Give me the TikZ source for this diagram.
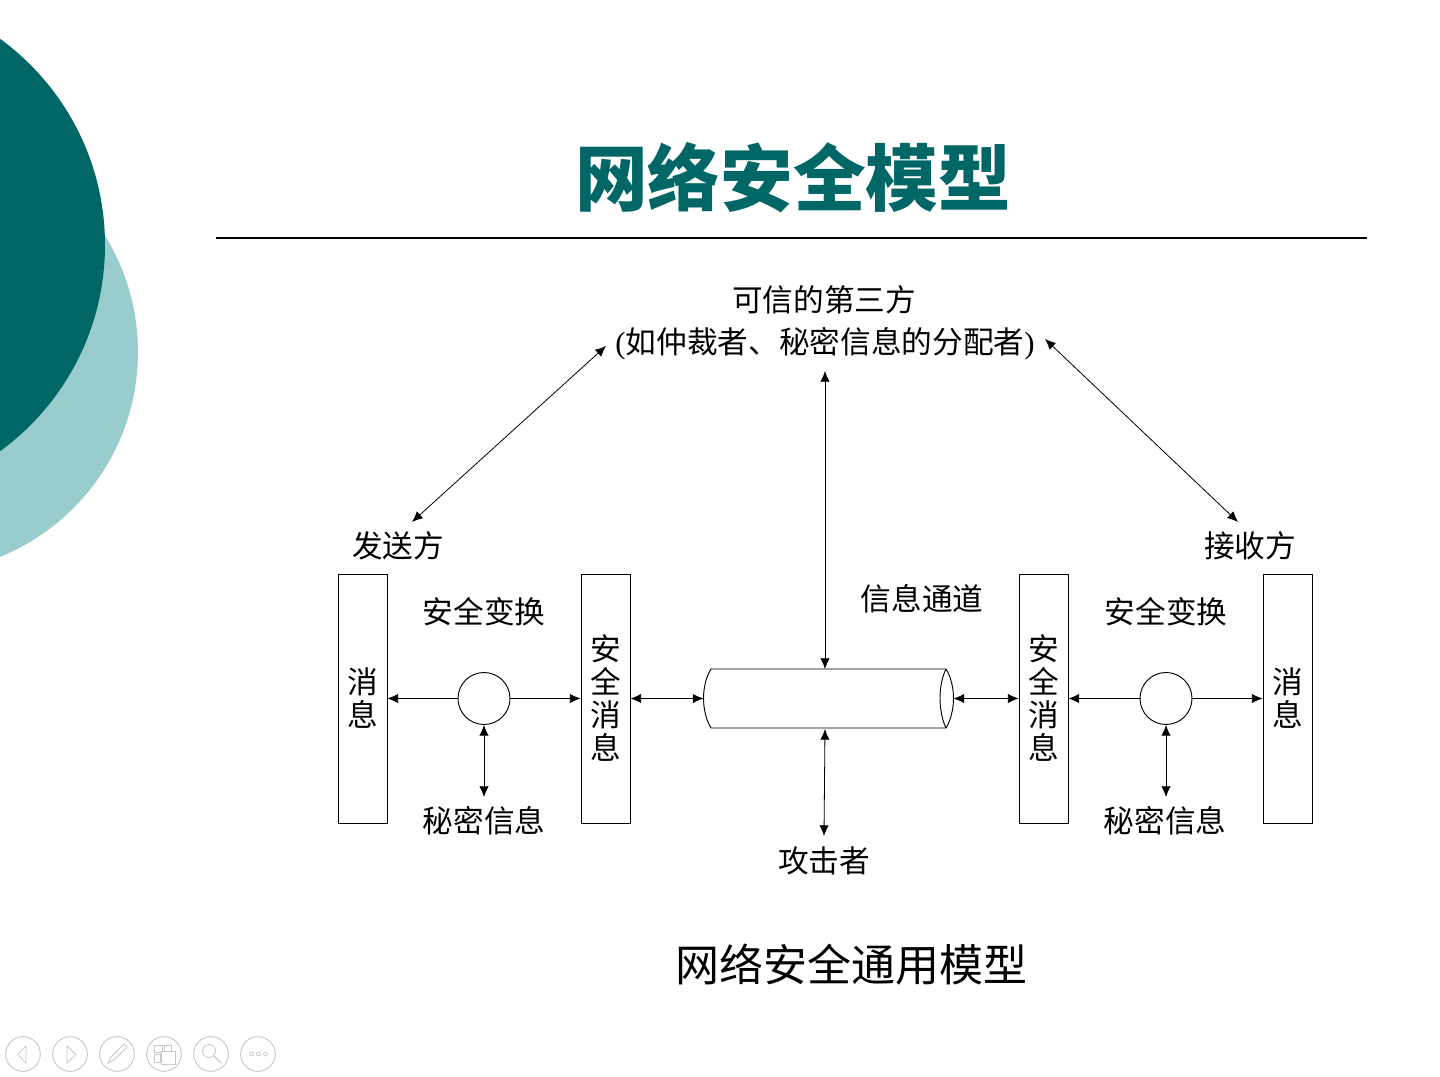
\documentclass[tikz,border=0pt]{standalone}
\usepackage{fontspec}
\setmainfont{Liberation Serif}
\newfontfamily\cjk{Noto Sans CJK SC}
\usetikzlibrary{arrows.meta}
\definecolor{tealdark}{HTML}{006666}
\definecolor{teallight}{HTML}{99CCCC}
\definecolor{navgray}{HTML}{C8C8C8}
\tikzset{
  px/.style={x=0.75pt,y=-0.75pt},
  lab/.style={font=\fontsize{23pt}{33pt}\selectfont\cjk,inner sep=0pt,text=black},
  barbox/.style={draw=black,line width=0.7pt,fill=white,minimum width=36.75pt,minimum height=186.75pt,inner sep=0pt,align=center,font=\fontsize{23pt}{24.75pt}\selectfont\cjk},
  ringnode/.style={circle,draw=black,line width=0.7pt,fill=white,minimum size=39pt,inner sep=0pt},
  link/.style={line width=0.6pt,{Latex[length=8pt,width=7pt]}-{Latex[length=8pt,width=7pt]}},
  oneway/.style={line width=0.6pt,-{Latex[length=8pt,width=7pt]}},
  pipe/.style={draw=black,line width=0.7pt},
  navring/.style={circle,draw=navgray,line width=0.7pt,minimum size=26pt,inner sep=0pt},
  navicon/.style={draw=navgray,line width=0.6pt},
}
\begin{document}
\begin{tikzpicture}[px]
\useasboundingbox (0,0) rectangle (1440,1077);
% decorative circles
\begin{scope}
\clip (0,0) rectangle (1440,1077);
\fill[teallight] (-83,352) circle[radius=221];
\fill[tealdark] (-150,245) circle[radius=255];
\end{scope}
% title
\node[inner sep=0pt,text=tealdark,font=\fontsize{54.5pt}{60pt}\selectfont\cjk\bfseries] (title) at (793,178) {网络安全模型};
\coordinate (ruleL) at (216,238);
\coordinate (ruleR) at (1367,238);
\draw[black,line width=1pt] (ruleL) -- (ruleR);
% labels
\node[lab] (ttp1) at (824,300) {可信的第三方};
\node[lab] (ttp2) at (825,344) {{\rmfamily(}如仲裁者、秘密信息的分配者{\rmfamily)}};
\node[lab] (sender) at (398,546) {发送方};
\node[lab] (receiver) at (1250,546) {接收方};
\node[lab] (xformL) at (484,612) {安全变换};
\node[lab] (xformR) at (1166,612) {安全变换};
\node[lab] (chan) at (922,599) {信息通道};
\node[lab] (secretL) at (484,821) {秘密信息};
\node[lab] (secretR) at (1165,821) {秘密信息};
\node[lab] (attacker) at (824,861) {攻击者};
\node[inner sep=0pt,font=\fontsize{33pt}{36pt}\selectfont\cjk] (caption) at (851,965) {网络安全通用模型};
% boxes
\node[barbox] (msgL) at (362.5,698.5) {消\\息};
\node[barbox] (secL) at (605.5,698.5) {安\\全\\消\\息};
\node[barbox] (secR) at (1043.5,698.5) {安\\全\\消\\息};
\node[barbox] (msgR) at (1287.5,698.5) {消\\息};
\node[ringnode] (ringL) at (484,698.5) {};
\node[ringnode] (ringR) at (1166,698.5) {};
% cylinder
\coordinate (pipeTL) at (711,669);
\coordinate (pipeBL) at (711,728);
\coordinate (pipeTR) at (946,669);
\coordinate (pipeBR) at (946,728);
\coordinate (pipeW) at (703.5,698.5);
\coordinate (pipeE) at (953.5,698.5);
\coordinate (pipeN) at (825,669);
\draw[pipe] (pipeTL) -- (pipeTR) .. controls (951,677) and (953.5,688) .. (pipeE) .. controls (953.5,708) and (951,720) .. (pipeBR) -- (pipeBL) .. controls (706,720) and (703.5,708) .. (pipeW) .. controls (703.5,688) and (706,677) .. cycle;
\draw[pipe] (pipeTR) .. controls (942,677) and (940,688) .. (940,698.5) .. controls (940,708) and (942,720) .. (pipeBR);
% free arrow ends
\coordinate (ttpSW) at (606,346);
\coordinate (ttpSE) at (1045,339);
\coordinate (ttpS) at (825,371);
\coordinate (senderN) at (412,522);
\coordinate (receiverN) at (1238,522);
\coordinate (attackerN) at (824,836);
\coordinate (pipeSgap) at (825,729);
\coordinate (secretLN) at (484,797);
\coordinate (secretRN) at (1166,797);
% connectors
\draw[link] (ttpSW) -- (senderN);
\draw[link] (ttpSE) -- (receiverN);
\draw[link] (ttpS) -- (pipeN);
\draw[link] (pipeSgap) -- (attackerN);
\draw[oneway] (ringL.west) -- (msgL.east|-ringL);
\draw[oneway] (ringL.east) -- (secL.west|-ringL);
\draw[link] (secL.east|-ringL) -- (pipeW);
\draw[link] (pipeE) -- (secR.west|-ringL);
\draw[oneway] (ringR.west) -- (secR.east|-ringR);
\draw[oneway] (ringR.east) -- (msgR.west|-ringR);
\draw[link] (ringL.south) -- (secretLN);
\draw[link] (ringR.south) -- (secretRN);
% nav buttons
\node[navring] (nav1) at (23,1054) {};
\node[navring] (nav2) at (70,1054) {};
\node[navring] (nav3) at (117,1054) {};
\node[navring] (nav4) at (164,1054) {};
\node[navring] (nav5) at (211,1054) {};
\node[navring] (nav6) at (258,1054) {};
\draw[navicon] (26,1046) -- (18,1054.5) -- (26,1063) -- cycle;
\draw[navicon] (67,1046) -- (76,1054.5) -- (67,1063) -- cycle;
\draw[navicon] (108,1063) -- (111,1057) -- (124,1044) -- (127,1047) -- (114,1060) -- cycle;
\draw[navicon] (154,1045) rectangle (162,1052);
\draw[navicon] (164,1045) rectangle (171,1052);
\draw[navicon] (154,1054) rectangle (160,1062);
\draw[navicon,fill=white] (161,1051) rectangle (175,1064);
\draw[navicon] (209,1051) circle[radius=6.5];
\draw[navicon,line width=1pt] (214,1056) -- (221,1063);
\draw[navicon] (251.5,1054) circle[radius=2];
\draw[navicon] (258.5,1054) circle[radius=2];
\draw[navicon] (265.5,1054) circle[radius=2];
\end{tikzpicture}
\end{document}
